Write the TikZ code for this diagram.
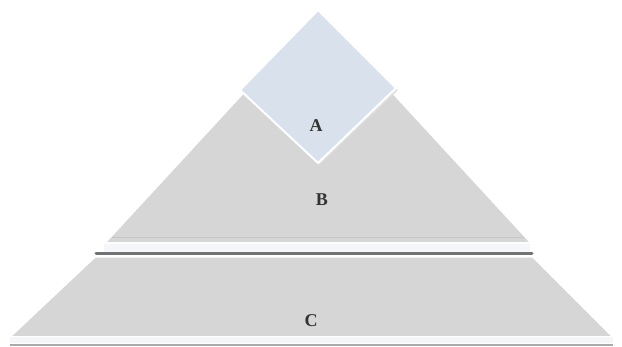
\documentclass[tikz,border=0pt]{standalone}
\usepackage{fontspec}
\setmainfont{Liberation Serif}
\definecolor{tiergray}{RGB}{214,214,214}
\definecolor{edgegray}{RGB}{196,198,200}
\definecolor{diamondfill}{RGB}{216,225,236}
\definecolor{barline}{RGB}{112,114,116}
\definecolor{bevel}{RGB}{244,246,249}
\tikzset{
  tier/.style={fill=tiergray, draw=white, line width=1.5pt, line join=round},
  lbl/.style={font=\fontsize{18}{18}\selectfont\bfseries, text=black!80},
}
\begin{document}
\begin{tikzpicture}[x=1pt,y=-1pt]
\useasboundingbox[fill=white] (0,0) rectangle (622,347);
% lower tier C
\path[tier] (95,257) -- (533,257) -- (613,337) -- (10,337) -- cycle;
\fill[bevel] (10,337) rectangle (613,343);
\draw[barline!60, line width=2pt] (10,345) -- (613,345);
% upper tier B
\path[tier] (318,12) -- (531,243) -- (105,243) -- cycle;
\draw[edgegray, line width=1pt] (112,238) -- (524,238);
\fill[bevel] (104,244) rectangle (530,252);
\draw[barline, line width=3pt, line cap=round] (96,254) -- (532,254);
% diamond A (soft shadow, then body)
\path[fill=black!12] (319,13) -- (398,90) -- (319,165) -- (241,91) -- cycle;
\path[fill=diamondfill, draw=white, line width=2pt, line join=round]
  (318,10) -- (396,88) -- (318,163) -- (240,90) -- cycle;
% labels
\node[lbl] (a) at (316,126) {A};
\node[lbl] (b) at (322,200) {B};
\node[lbl] (c) at (311,321) {C};
\end{tikzpicture}
\end{document}
